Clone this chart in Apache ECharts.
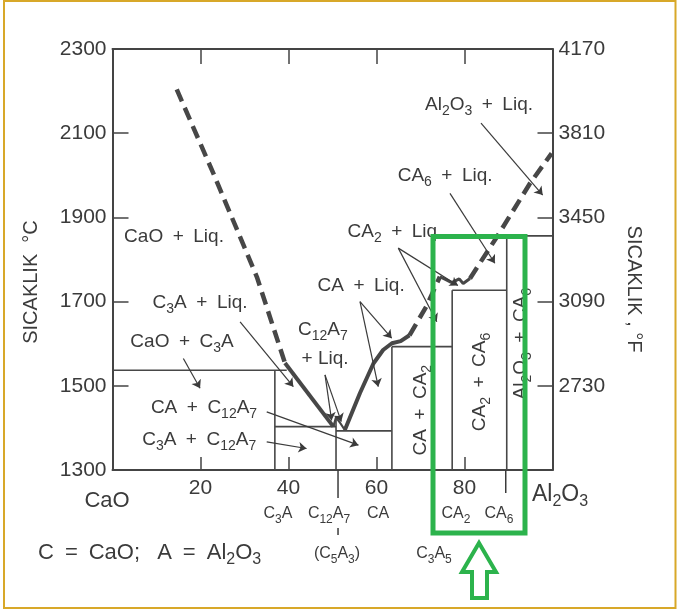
<!DOCTYPE html>
<html><head><meta charset="utf-8">
<script src="https://cdn.jsdelivr.net/npm/echarts@6/dist/echarts.min.js"></script>
<style>html,body{margin:0;padding:0;background:#fff}#c{width:677px;height:610px}</style>
</head><body><div id="c"></div>
<script>
const FONT = '"Liberation Sans", Arial, Helvetica, sans-serif';
const INK = '#3b3b3b';
const GREEN = '#2cb34c';

// ---- axis ticks ----
const xTickValues = [20, 40, 60, 80];
const xTickLabels = ['20', '40', '60', '80'];
const celsiusTicks = [1300, 1500, 1700, 1900, 2100, 2300];
const celsiusInnerTicks = [1500, 1700, 1900, 2100];
const fahrenheitLabels = ['', '2730', '3090', '3450', '3810', '4170'];

// ---- liquidus curves (wt% Al2O3, °C) ----
const liqCaO = [[14.6, 2204], [22.9, 2005], [32.8, 1759], [39.2, 1554]];           // dashed
const liqC3A = [[39.2, 1554], [50.2, 1403]];                                        // solid
const liqC12A7 = [[50.2, 1403], [50.8, 1425], [51.6, 1414], [52.8, 1395]];          // solid thin
const liqCA = [[52.8, 1395], [56.25, 1483], [59.3, 1553], [61.5, 1585], [63.5, 1601], [65.5, 1606], [67.5, 1620]];
const liqCA2 = [[67.5, 1620], [71.4, 1690], [74.4, 1759]];                          // dashed
const liqCA2Top = [[74.4, 1759], [76.0, 1751], [77.1, 1745], [78.8, 1754], [79.7, 1743], [81.25, 1755]];
const liqAl2O3 = [[81.25, 1755], [87.5, 1856], [94.9, 1981], [99.8, 2052]];         // dashed

// ---- invariant isotherms [x from, x to, °C] ----
const isoFrom = [0, 36.9, 50.8, 63.5, 77.2, 87.5];
const isoTo   = [39.6, 50.8, 63.5, 77.2, 89.6, 100];
const isoTemp = [1537, 1403, 1393, 1593, 1727, 1856];

// ---- compounds: composition and top of their line ----
const compoundNames = ['C3A', 'C12A7', 'CA', 'CA2', 'CA6'];
const compoundX = [36.9, 50.8, 63.5, 77.2, 89.6];
const compoundTop = [1537, 1427, 1593, 1727, 1856];

// ---- leader arrows [x1, T1, x2, T2] ----
const arrowLeaders = [
  [83.75, 2124, 97.77, 1953],
  [76.7, 1957, 86.9, 1791],
  [64.95, 1827, 78.5, 1738],
  [64.95, 1827, 73.7, 1652],
  [56.25, 1700, 63.45, 1613],
  [56.25, 1700, 60.4, 1498],
  [48.3, 1526, 49.8, 1418],
  [48.3, 1526, 52.0, 1415],
  [29.0, 1652, 41.1, 1498],
  [16.1, 1565, 19.9, 1494],
  [35.05, 1438, 55.9, 1359],
  [35.05, 1367, 44.1, 1351]
];

// ---- region labels (text, x %, T °C) ----
const regionText = ['CaO + Liq.', 'Al_2O_3 + Liq.', 'CA_6 + Liq.', 'CA_2 + Liq.', 'CA + Liq.', 'C_{12}A_7', '+ Liq.',
  'C_3A + Liq.', 'CaO + C_3A', 'CA + C_{12}A_7', 'C_3A + C_{12}A_7'];
const regionAt = [[13.98, 1853], [83.3, 2167], [75.6, 1998], [64.2, 1865], [56.5, 1737], [47.8, 1632], [48.3, 1564],
  [19.9, 1697], [15.8, 1604], [20.8, 1447], [19.7, 1371]];
const verticalText = ['CA + CA_2', 'CA_2 + CA_6', 'Al_2O_3 + CA_6'];
const verticalAt = [[70.1, 1442], [83.5, 1509], [92.8, 1600]];

function rich(str) {
  const sp = str.replace(/ \+ /g, '\u2002+\u2002');
  let out = '', last = 0;
  const re = /_\{(\d+)\}|_(\d)/g; let m;
  while ((m = re.exec(sp)) !== null) {
    if (m.index > last) out += '{n|' + sp.slice(last, m.index) + '}';
    out += '{s|' + (m[1] || m[2]) + '}';
    last = re.lastIndex;
  }
  if (last < sp.length) out += '{n|' + sp.slice(last) + '}';
  return out;
}
function richStyles(main, sub) {
  return {
    n: { fontSize: main, fontFamily: FONT, fill: INK, lineHeight: main + 7, verticalAlign: 'middle' },
    s: { fontSize: sub, fontFamily: FONT, fill: INK, lineHeight: sub, verticalAlign: 'bottom' }
  };
}

const chart = echarts.init(document.getElementById('c'), null, { renderer: 'canvas' });

const series = [];
function poly(data, width, dashed) {
  series.push({
    type: 'line', data: data, showSymbol: false, symbol: 'none', silent: true, animation: false, z: 3,
    lineStyle: { color: '#474747', width: width, type: dashed ? [13, 7] : 'solid', cap: 'butt' }
  });
}
poly(liqCaO, 4.5, true);
poly(liqC3A, 4, false);
poly(liqC12A7, 2.2, false);
poly(liqCA, 4, false);
poly(liqCA2, 4.5, true);
poly(liqCA2Top, 3, false);
poly(liqAl2O3, 4.5, true);
for (let i = 0; i < isoTemp.length; i++) poly([[isoFrom[i], isoTemp[i]], [isoTo[i], isoTemp[i]]], 1.6, false);
for (let i = 0; i < compoundX.length; i++) poly([[compoundX[i], 1300], [compoundX[i], compoundTop[i]]], 1.6, false);

series.push({
  type: 'lines', coordinateSystem: 'cartesian2d', silent: true, animation: false, z: 4,
  symbol: ['none', 'arrow'], symbolSize: 8,
  lineStyle: { color: INK, width: 1.2, opacity: 1, curveness: 0 },
  itemStyle: { color: INK },
  data: arrowLeaders.map(a => ({ coords: [[a[0], a[1]], [a[2], a[3]]] }))
});

const axisLineStyle = { color: '#444', width: 2 };
chart.setOption({
  backgroundColor: '#fff',
  animation: false,
  grid: { left: 112.5, right: 124.5, top: 49, bottom: 140, containLabel: false },
  xAxis: [
    { type: 'value', min: 0, max: 100, position: 'bottom',
      axisLine: { show: true, onZero: false, lineStyle: axisLineStyle },
      axisTick: { show: true, inside: true, length: 13, customValues: xTickValues, lineStyle: { color: '#444', width: 1.5 } },
      axisLabel: { show: true, customValues: xTickValues, formatter: v => xTickLabels[xTickValues.indexOf(v)] || '',
        fontSize: 21, fontFamily: FONT, color: INK, margin: 8 },
      splitLine: { show: false } },
    { type: 'value', min: 0, max: 100, position: 'top',
      axisLine: { show: true, onZero: false, lineStyle: axisLineStyle },
      axisTick: { show: true, inside: true, length: 15, customValues: xTickValues, lineStyle: { color: '#444', width: 1.5 } },
      axisLabel: { show: false }, splitLine: { show: false } }
  ],
  yAxis: [
    { type: 'value', min: 1300, max: 2300, position: 'left',
      axisLine: { show: true, onZero: false, lineStyle: axisLineStyle },
      axisTick: { show: true, inside: true, length: 16, customValues: celsiusInnerTicks, lineStyle: { color: '#444', width: 1.5 } },
      axisLabel: { show: true, customValues: celsiusTicks, formatter: v => String(v), fontSize: 21, fontFamily: FONT, color: INK, margin: 6,
        showMinLabel: true, showMaxLabel: true },
      splitLine: { show: false } },
    { type: 'value', min: 1300, max: 2300, position: 'right',
      axisLine: { show: true, onZero: false, lineStyle: axisLineStyle },
      axisTick: { show: true, inside: true, length: 15, customValues: celsiusInnerTicks, lineStyle: { color: '#444', width: 1.5 } },
      axisLabel: { show: true, customValues: celsiusTicks, formatter: v => fahrenheitLabels[celsiusTicks.indexOf(v)] || '',
        fontSize: 21, fontFamily: FONT, color: INK, margin: 6, showMinLabel: true, showMaxLabel: true },
      splitLine: { show: false } }
  ],
  series: series
});

// ---- annotations ----
const px = (x, y) => chart.convertToPixel({ gridIndex: 0 }, [x, y]);
const graphics = [];
function txt(str, x, y, main, sub, opts) {
  graphics.push(Object.assign({
    type: 'text', x: x, y: y, z: 50, silent: true,
    style: { text: rich(str), rich: richStyles(main, sub), align: 'center', verticalAlign: 'middle', fill: INK }
  }, opts || {}));
}
regionText.forEach((t, i) => { const p = px(regionAt[i][0], regionAt[i][1]); txt(t, p[0], p[1], 19, 14); });
verticalText.forEach((t, i) => { const p = px(verticalAt[i][0], verticalAt[i][1]); txt(t, p[0], p[1], 19, 14, { rotation: Math.PI / 2 }); });

// bottom captions
txt('CaO', 107, 501, 22, 15);
txt('Al_2O_3', 560, 495, 23, 16);
txt('C_3A', 278, 514, 16, 12);
txt('C_{12}A_7', 329, 514, 16, 12);
txt('CA', 378, 514, 16, 12);
txt('CA_2', 456, 514, 16, 12);
txt('CA_6', 499, 514, 16, 12);
txt('(C_5A_3)', 337, 554, 16, 12);
txt('C_3A_5', 434, 554, 16, 12);
graphics.push({ type: 'text', x: 38, y: 553, z: 50, silent: true,
  style: { text: '{n|C\u2002=\u2002CaO;\u2002 A\u2002=\u2002Al}{s|2}{n|O}{s|3}', rich: richStyles(22, 16), align: 'left', verticalAlign: 'middle' } });

// extension marks below axis for C12A7 and CA6
const pC12 = px(compoundX[1], 1300), pCA6 = px(compoundX[4], 1300);
graphics.push({ type: 'line', z: 5, silent: true, shape: { x1: pC12[0] + 2, y1: pC12[1], x2: pC12[0] + 2, y2: pC12[1] + 28 }, style: { stroke: INK, lineWidth: 1.5 } });
graphics.push({ type: 'line', z: 5, silent: true, shape: { x1: pC12[0] + 2, y1: pC12[1] + 58, x2: pC12[0] + 2, y2: pC12[1] + 65 }, style: { stroke: INK, lineWidth: 1.5 } });
graphics.push({ type: 'line', z: 5, silent: true, shape: { x1: pCA6[0] - 1, y1: pCA6[1], x2: pCA6[0] - 1, y2: pCA6[1] + 23 }, style: { stroke: INK, lineWidth: 1.5 } });

// axis titles
graphics.push({ type: 'text', x: 31, y: 282, rotation: Math.PI / 2, z: 50, silent: true,
  style: { text: 'SICAKLIK  °C', fontSize: 20, fontFamily: FONT, fill: INK, align: 'center', verticalAlign: 'middle' } });
graphics.push({ type: 'text', x: 634, y: 289, rotation: -Math.PI / 2, z: 50, silent: true,
  style: { text: 'SICAKLIK , °F', fontSize: 20, fontFamily: FONT, fill: INK, align: 'center', verticalAlign: 'middle' } });

// green highlight box and arrow
graphics.push({ type: 'rect', z: 100, silent: true, shape: { x: 433, y: 236.5, width: 92, height: 296.5 },
  style: { fill: null, stroke: GREEN, lineWidth: 5 } });
graphics.push({ type: 'polygon', z: 100, silent: true,
  shape: { points: [[479, 543], [496, 572], [487, 572], [487, 598], [472, 598], [472, 572], [462, 572]] },
  style: { fill: '#fff', stroke: GREEN, lineWidth: 4, lineJoin: 'miter' } });

// golden frame
graphics.push({ type: 'rect', z: 100, silent: true, shape: { x: 4, y: 1, width: 671.5, height: 607 },
  style: { fill: null, stroke: '#d8a829', lineWidth: 2 } });

chart.setOption({ graphic: graphics });
</script></body></html>
